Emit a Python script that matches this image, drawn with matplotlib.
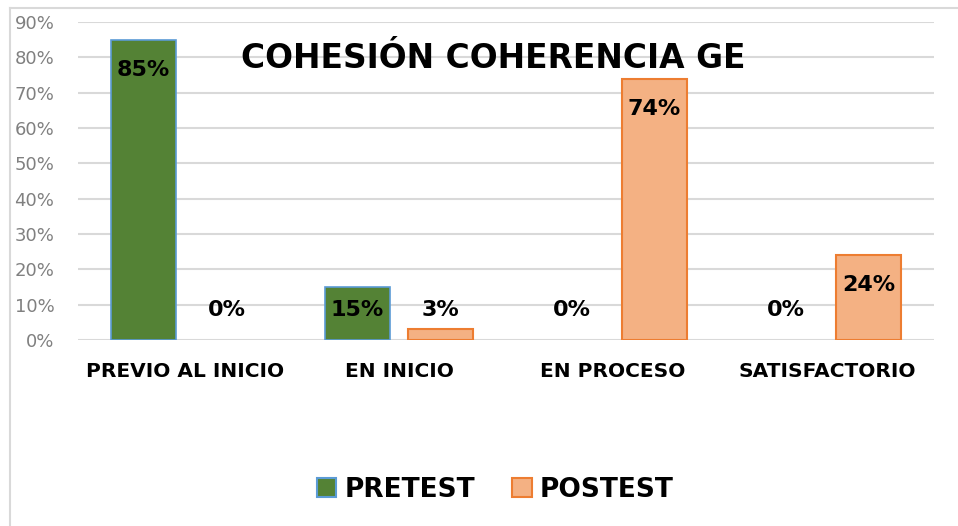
import numpy as np
import matplotlib.pyplot as plt
from matplotlib.lines import Line2D
from matplotlib.patches import Patch

# ===================== DATA =====================
categories = ["PREVIO AL INICIO", "EN INICIO", "EN PROCESO", "SATISFACTORIO"]
pretest = [85, 15, 0, 0]
postest = [0, 3, 74, 24]
yticks = [0, 10, 20, 30, 40, 50, 60, 70, 80, 90]

GREEN, GREEN_EDGE = "#548235", "#5B9BD5"
ORANGE, ORANGE_EDGE = "#F4B183", "#ED7D31"
BOLD = dict(family="DejaVu Sans", weight="bold", color="black")

W, H = 958, 526
fig = plt.figure(figsize=(W / 100, H / 100), dpi=100)
ax = fig.add_axes([78 / W, 1 - 340 / H, (934 - 78) / W, (340 - 22) / H])

x = np.arange(len(categories))
bw = 0.308
off = 0.194
# zero-height bars get no outline, like the original
ax.bar(x - off, pretest, bw, color=GREEN,
       edgecolor=[GREEN_EDGE if v else "none" for v in pretest], linewidth=1.2, zorder=3)
ax.bar(x + off, postest, bw, color=ORANGE,
       edgecolor=[ORANGE_EDGE if v else "none" for v in postest], linewidth=1.5, zorder=3)

# data labels: inside the top of the bar, or just above the axis when the bar is small
for vals, dx in [(pretest, -off), (postest, off)]:
    for i, v in enumerate(vals):
        ax.text(i + dx, max(v - 8.5, 8.5), f"{v}%", ha="center", va="center",
                fontsize=16, zorder=4, **BOLD)

ax.set_xlim(-0.5, 3.5)
ax.set_ylim(0, 90)
ax.set_yticks(yticks)
ax.set_yticklabels([f"{t}%" for t in yticks], color="#808080", fontsize=13)
ax.set_xticks(x)
ax.set_xticklabels(categories, fontsize=14.5, **BOLD)
ax.tick_params(length=0)
ax.tick_params(axis="y", pad=17)
ax.tick_params(axis="x", pad=16)
ax.grid(axis="y", color="#D9D9D9", linewidth=1.5, zorder=0)
for s in ax.spines.values():
    s.set_visible(False)

ax.text(0.485, 0.885, "COHESIÓN COHERENCIA GE", transform=ax.transAxes,
        ha="center", va="center", fontsize=23.7, **BOLD)

handles = [Patch(facecolor=GREEN, edgecolor=GREEN_EDGE, linewidth=1.5, label="PRETEST"),
           Patch(facecolor=ORANGE, edgecolor=ORANGE_EDGE, linewidth=1.5, label="POSTEST")]
leg = fig.legend(handles=handles, loc="center", bbox_to_anchor=(495 / W, 1 - 490 / H),
                 ncol=2, frameon=False, handlelength=0.75, handleheight=0.75,
                 handletextpad=0.3, columnspacing=1.4,
                 prop=dict(family="DejaVu Sans", weight="bold", size=19))

# outer chart border (left and top only visible)
fig.add_artist(Line2D([10 / W, 10 / W], [0, 1 - 8 / H], color="#D9D9D9", linewidth=1.5))
fig.add_artist(Line2D([10 / W, 1], [1 - 8 / H, 1 - 8 / H], color="#D9D9D9", linewidth=1.5))

fig.savefig("out.png", dpi=100)
